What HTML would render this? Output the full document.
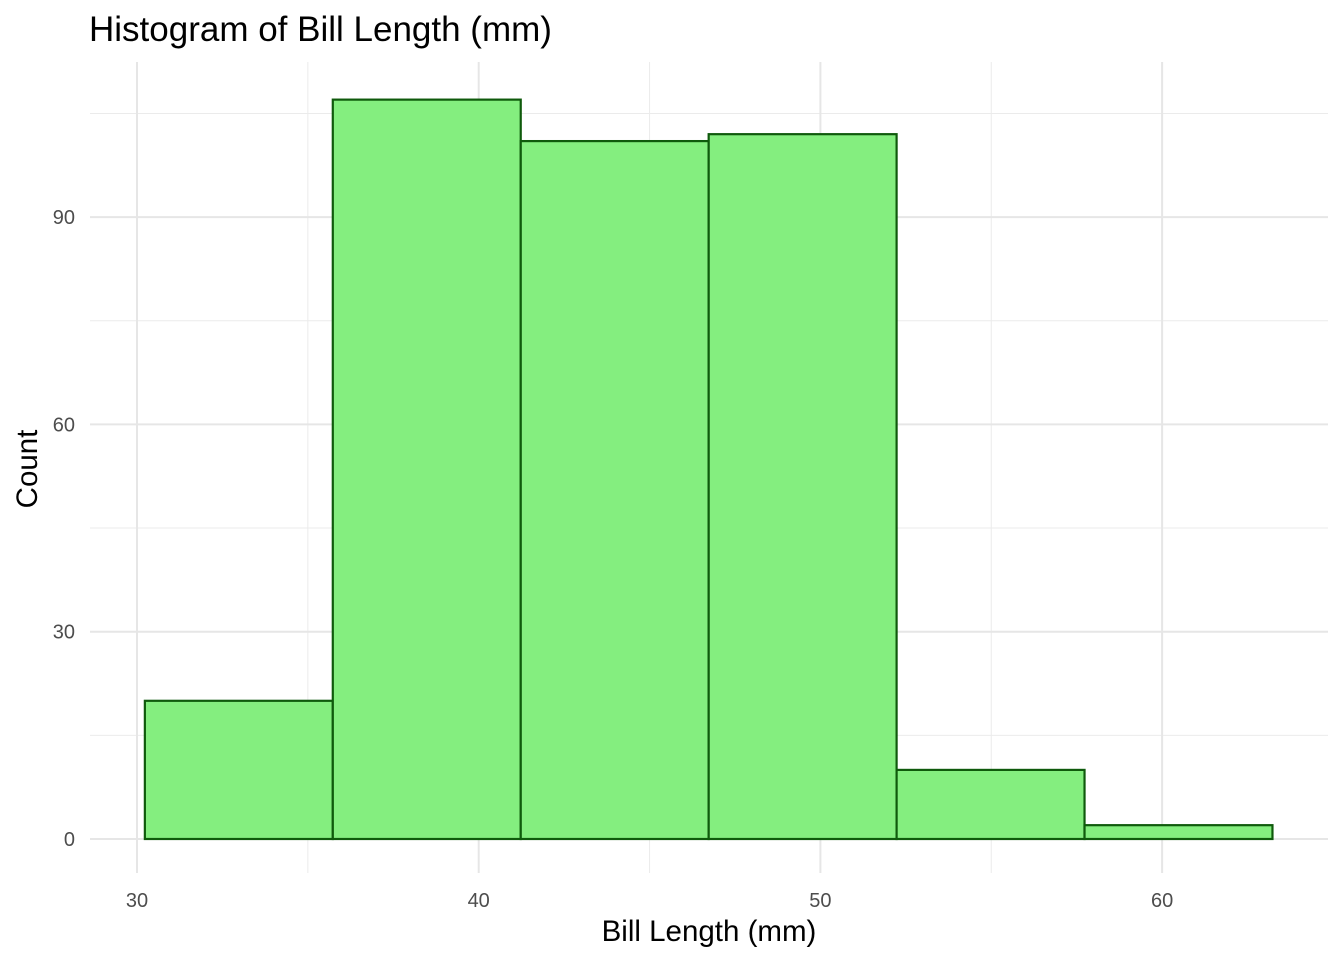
<!DOCTYPE html>
<html><head><meta charset="utf-8"><style>
body{margin:0;background:#fff;}
svg text{font-family:"Liberation Sans",Arial,sans-serif;}
</style></head><body>
<svg id="chart" width="1344" height="960" xmlns="http://www.w3.org/2000/svg">
<text x="89" y="41" font-size="35" fill="#000">Histogram of Bill Length (mm)</text>
<g id="grid"></g><g id="bars"></g><g id="ticks"></g>
<text x="709" y="941" font-size="29.5" text-anchor="middle" fill="#000">Bill Length (mm)</text>
<text transform="translate(37,469) rotate(-90)" font-size="29.5" text-anchor="middle" fill="#000">Count</text>
</svg>
<script>
const binStarts=[30.23,35.73,41.23,46.73,52.23,57.73];
const binWidth=5.5;
const counts=[20,107,101,102,10,2];
const xTicks=[30,40,50,60];
const xMinor=[35,45,55];
const yTicks=[0,30,60,90];
const yMinor=[15,45,75,105];
const ns="http://www.w3.org/2000/svg";
const X=v=>137+(v-30)*34.17;
const Y=v=>839-v*6.91;
const L=90,R=1328,T=62,B=873;
function mk(tag,attrs,parent){const e=document.createElementNS(ns,tag);for(const k in attrs)e.setAttribute(k,attrs[k]);document.getElementById(parent).appendChild(e);return e;}
xMinor.forEach(v=>{const e=mk('line',{x1:X(v),x2:X(v),y1:T,y2:B,stroke:'#ebebeb','stroke-width':1},'grid');

});
yMinor.forEach(v=>{const e=mk('line',{x1:L,x2:R,y1:Y(v),y2:Y(v),stroke:'#ebebeb','stroke-width':1},'grid');

});
xTicks.forEach(v=>{const e=mk('line',{x1:X(v),x2:X(v),y1:T,y2:B,stroke:'#e6e6e6','stroke-width':2},'grid');


const t=mk('text',{x:X(v),y:907,'font-size':20,fill:'#4d4d4d','text-anchor':'middle'},'ticks');t.textContent=v;

});
yTicks.forEach(v=>{const e=mk('line',{x1:L,x2:R,y1:Y(v),y2:Y(v),stroke:'#e6e6e6','stroke-width':2},'grid');


const t=mk('text',{x:75,y:Y(v)+7,'font-size':20,fill:'#4d4d4d','text-anchor':'end'},'ticks');t.textContent=v;

});
counts.forEach((c,i)=>{const x0=X(binStarts[i]),x1=X(binStarts[i]+binWidth);
const r=mk('rect',{x:x0,y:Y(c),width:x1-x0,height:Y(0)-Y(c),fill:'#84ee7f',stroke:'#0f5a0c','stroke-width':2.2},'bars');

});
</script>
</body></html>
